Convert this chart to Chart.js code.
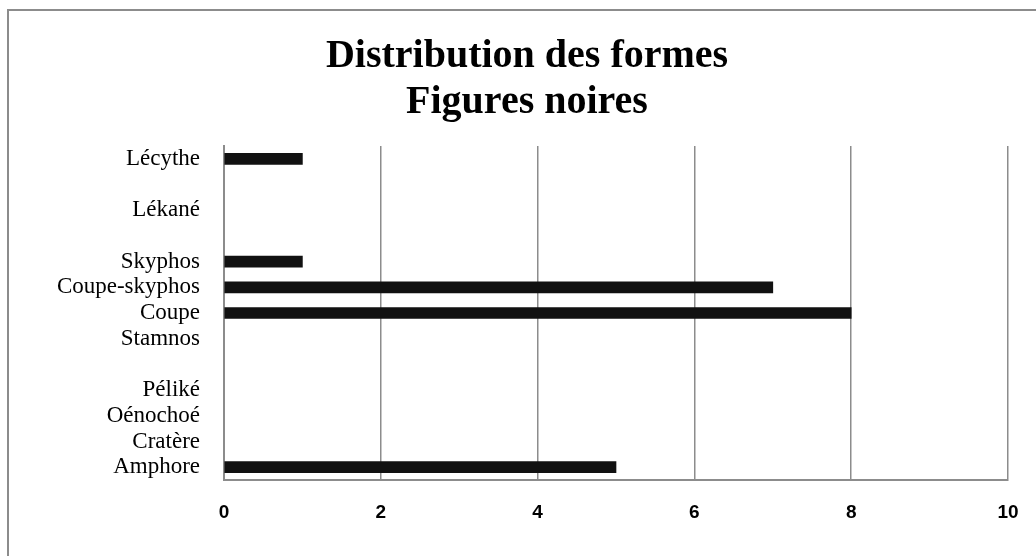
<!DOCTYPE html>
<html>
<head>
<meta charset="utf-8">
<script src="https://cdn.jsdelivr.net/npm/chart.js@4"></script>
<style>
  html, body { margin: 0; padding: 0; background: #fff; }
  #wrap { position: relative; width: 1036px; height: 556px; overflow: hidden; }
  #frame { position: absolute; left: 7px; top: 9px; width: 1100px; height: 600px;
           border-top: 2px solid #8c8c8c; border-left: 2px solid #8c8c8c; }
  canvas { position: absolute; left: 0; top: 0; }
</style>
</head>
<body>
<div id="wrap">
  <div id="frame"></div>
  <canvas id="c" width="1036" height="556"></canvas>
</div>
<script>
const titleLines = ['Distribution des formes', 'Figures noires'];
const categories = ['Lécythe', '', 'Lékané', '', 'Skyphos', 'Coupe-skyphos', 'Coupe', 'Stamnos', '', 'Péliké', 'Oénochoé', 'Cratère', 'Amphore'];
const counts = [1, null, 0, null, 1, 7, 8, 0, null, 0, 0, 0, 5];
const xTicks = [0, 2, 4, 6, 8, 10];

const gridGray = '#8c8c8c';

new Chart(document.getElementById('c'), {
  type: 'bar',
  data: {
    labels: categories,
    datasets: [{
      data: counts,
      backgroundColor: (ctx) => (ctx.raw ? '#111111' : 'rgba(0,0,0,0)'),
      borderWidth: 0,
      barThickness: 11
    }]
  },
  options: {
    indexAxis: 'y',
    responsive: false,
    animation: false,
    layout: { padding: { left: 46, right: 28, top: 0, bottom: 0 } },
    plugins: {
      legend: { display: false },
      tooltip: { enabled: false },
      title: {
        display: true,
        text: titleLines,
        color: '#000',
        font: { family: 'Liberation Serif', size: 40, weight: 'bold', lineHeight: 1.15 },
        padding: { top: 34, bottom: 20 }
      }
    },
    scales: {
      x: {
        min: 0,
        max: 10,
        afterBuildTicks: (s) => { s.ticks = xTicks.map(v => ({ value: v })); },
        afterFit: (s) => { s.height = 76; s.paddingLeft = 0; s.paddingRight = 0; },
        grid: { color: gridGray, lineWidth: 1.5, drawTicks: false },
        border: { color: gridGray, width: 2 },
        ticks: {
          color: '#000',
          padding: 21,
          font: { family: 'Liberation Sans', size: 19, weight: 'bold' }
        }
      },
      y: {
        afterFit: (s) => { s.width = 178; },
        grid: { display: false, drawTicks: false },
        border: { color: gridGray, width: 2 },
        ticks: {
          color: '#000',
          padding: 24,
          autoSkip: false,
          font: { family: 'Liberation Serif', size: 23 }
        }
      }
    }
  }
});
</script>
</body>
</html>
